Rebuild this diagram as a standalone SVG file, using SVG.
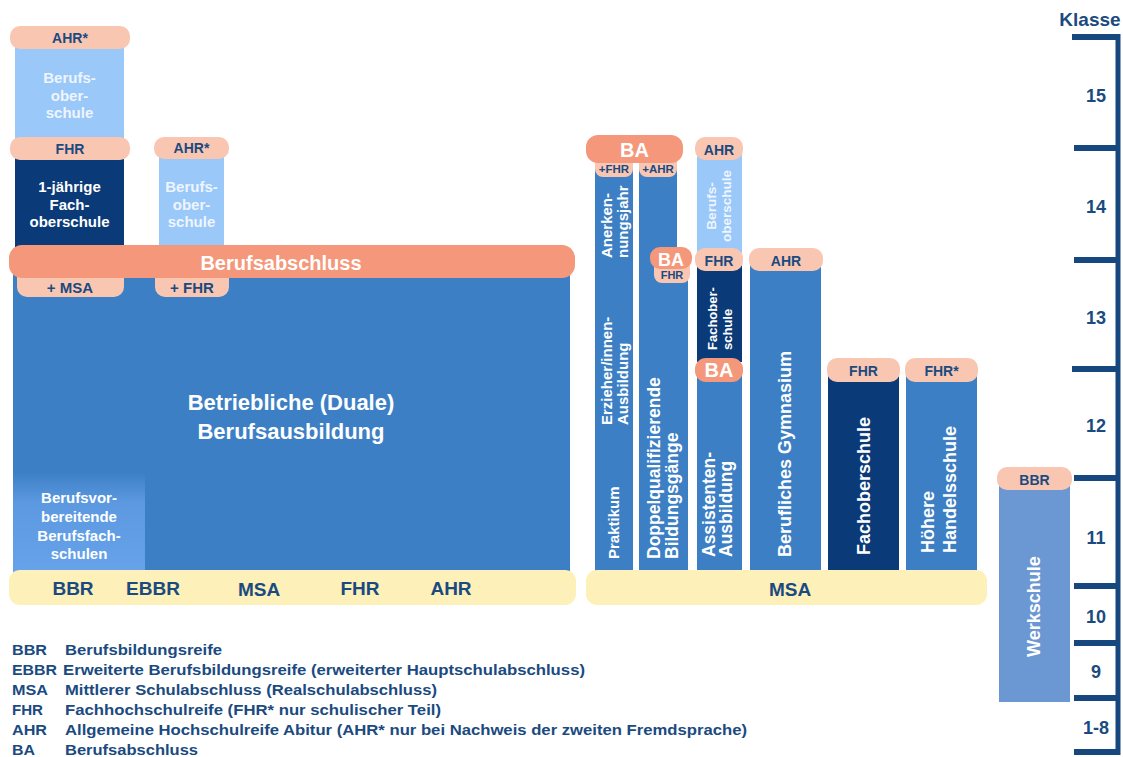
<svg xmlns="http://www.w3.org/2000/svg" width="1123" height="757" viewBox="0 0 1123 757">
<style>
text{font-family:"Liberation Sans",Arial,Helvetica,sans-serif;font-weight:bold}
.c{text-anchor:middle}
.dk{fill:#1a4a80}
.wh{fill:#ffffff}
.lt{fill:#eef5ff}
.blue{fill:#3d7fc4}
.navy{fill:#0b3a78}
.lb{fill:#9ac8f9}
.sal{fill:#f5977a}
.peach{fill:#f9c6b2}
.yel{fill:#fdf0b8}
.werk{fill:#6b97d3}
.tick{stroke:#17477f;stroke-width:6}
.s11{font-size:11px}.s12{font-size:11.5px}.s13{font-size:13px}.s14{font-size:14px}.s15{font-size:15px}
.s17{font-size:17.5px}.s18{font-size:18px}.s19{font-size:19px}.s20{font-size:20px}.s22{font-size:22px}
.leg{font-size:15px;fill:#1a4a80}
</style>
<defs>
<linearGradient id="bvGrad" x1="0" y1="0" x2="0" y2="1">
<stop offset="0" stop-color="#3d7fc4"/>
<stop offset="0.3" stop-color="#5c99e0"/>
<stop offset="1" stop-color="#66a3ea"/>
</linearGradient>
</defs>

<!-- Left block -->
<g id="duale-ausbildung">
<rect class="blue" x="13" y="255" width="557" height="320"/>
<text class="wh s22 c" x="291" y="410">Betriebliche (Duale)</text>
<text class="wh s22 c" x="291" y="439">Berufsausbildung</text>
</g>
<g id="berufsvorbereitende">
<rect x="13" y="472" width="132" height="103" fill="url(#bvGrad)"/>
<text class="wh s15 c" x="79" y="502.5">Berufsvor-</text>
<text class="wh s15 c" x="79" y="521.5">bereitende</text>
<text class="wh s15 c" x="79" y="540.5">Berufsfach-</text>
<text class="wh s15 c" x="79" y="558.5">schulen</text>
</g>
<g id="berufsoberschule-top">
<rect class="lb" x="15" y="40" width="109" height="100"/>
<rect class="peach" x="10" y="26" width="120" height="23" rx="10"/>
<text class="dk s14 c" x="70" y="42.5">AHR*</text>
<text class="lt s15 c" x="69.5" y="83">Berufs-</text>
<text class="lt s15 c" x="69.5" y="100.5">ober-</text>
<text class="lt s15 c" x="69.5" y="118">schule</text>
</g>
<g id="fachoberschule-1j">
<rect class="navy" x="15" y="155" width="109" height="95"/>
<rect class="peach" x="10" y="137" width="120" height="23" rx="10"/>
<text class="dk s14 c" x="70" y="153.5">FHR</text>
<text class="wh s15 c" x="69.5" y="192">1-jährige</text>
<text class="wh s15 c" x="69.5" y="209.5">Fach-</text>
<text class="wh s15 c" x="69.5" y="227">oberschule</text>
</g>
<g id="berufsoberschule-2">
<rect class="lb" x="159" y="155" width="65" height="95"/>
<rect class="peach" x="154" y="137" width="75" height="22" rx="10"/>
<text class="dk s14 c" x="191.5" y="153">AHR*</text>
<text class="lt s15 c" x="191.5" y="192">Berufs-</text>
<text class="lt s15 c" x="191.5" y="209.5">ober-</text>
<text class="lt s15 c" x="191.5" y="227">schule</text>
</g>
<g id="plus-msa">
<rect class="peach" x="17" y="266" width="107" height="31" rx="10"/>
<text class="dk s15 c" x="70" y="293">+ MSA</text>
</g>
<g id="plus-fhr">
<rect class="peach" x="155" y="266" width="74" height="31" rx="10"/>
<text class="dk s15 c" x="192" y="293">+ FHR</text>
</g>
<g id="berufsabschluss-bar">
<rect class="sal" x="9" y="245" width="566" height="33" rx="13"/>
<text class="wh s20 c" x="281" y="270">Berufsabschluss</text>
</g>
<g id="abschluesse-links">
<rect class="yel" x="9" y="570" width="567" height="35" rx="11"/>
<text class="dk s19 c" x="73" y="594.5">BBR</text>
<text class="dk s19 c" x="153" y="594.5">EBBR</text>
<text class="dk s19 c" x="259" y="595.5">MSA</text>
<text class="dk s19 c" x="360" y="594.5">FHR</text>
<text class="dk s19 c" x="451" y="594.5">AHR</text>
</g>

<!-- Middle block -->
<g id="erzieher">
<rect class="blue" x="595" y="160" width="38" height="415"/>
<rect class="peach" x="595" y="150" width="38" height="27" rx="8"/>
<text class="dk s12 c" x="614" y="173">+FHR</text>
<text class="wh s15" transform="translate(619,559) rotate(-90)">Praktikum</text>
<text class="wh s15" transform="translate(612,425) rotate(-90)"><tspan x="0" y="0">Erzieher/innen-</tspan><tspan x="0" y="15.5">Ausbildung</tspan></text>
<text class="wh s15" transform="translate(612,258) rotate(-90)"><tspan x="0" y="0">Anerken-</tspan><tspan x="0" y="15.5">nungsjahr</tspan></text>
</g>
<g id="doppelqualifizierende">
<rect class="blue" x="639" y="160" width="38" height="415"/>
<rect class="blue" x="639" y="258" width="49" height="317"/>
<rect class="peach" x="639" y="150" width="38" height="27" rx="8"/>
<text class="dk s12 c" x="658" y="173">+AHR</text>
<rect class="peach" x="654" y="258" width="36" height="25" rx="8"/>
<text class="dk s11 c" x="672" y="279">FHR</text>
<rect class="sal" x="650" y="247" width="42" height="22" rx="10"/>
<text class="wh s18 c" x="671" y="265.5">BA</text>
<text class="wh s17" transform="translate(660,559) rotate(-90)"><tspan x="0" y="0">Doppelqualifizierende</tspan><tspan x="0" y="18">Bildungsgänge</tspan></text>
</g>
<g id="ba-top">
<rect class="sal" x="586" y="135" width="97" height="28" rx="12"/>
<text class="wh s20 c" x="634.5" y="156.5">BA</text>
</g>
<g id="assistenten">
<rect class="lb" x="697" y="148" width="45" height="105"/>
<rect class="navy" x="697" y="262" width="45" height="100"/>
<rect class="blue" x="697" y="375" width="45" height="200"/>
<rect class="peach" x="695" y="137" width="48" height="23" rx="10"/>
<text class="dk s14 c" x="719" y="155">AHR</text>
<text class="lt" style="font-size:13.5px;text-anchor:middle" transform="translate(716,206) rotate(-90)"><tspan x="0" y="0">Berufs-</tspan><tspan x="0" y="15">oberschule</tspan></text>
<rect class="peach" x="695" y="248" width="48" height="23" rx="10"/>
<text class="dk s14 c" x="719" y="265.5">FHR</text>
<text class="wh s13" transform="translate(717,350) rotate(-90)"><tspan x="0" y="0">Fachober-</tspan><tspan x="0" y="15">schule</tspan></text>
<rect class="sal" x="695" y="358" width="48" height="24" rx="11"/>
<text class="wh s20 c" x="719" y="377">BA</text>
<text class="wh s17" transform="translate(715,557) rotate(-90)"><tspan x="0" y="0">Assistenten-</tspan><tspan x="0" y="17">Ausbildung</tspan></text>
</g>
<g id="berufliches-gymnasium">
<rect class="blue" x="750" y="262" width="71" height="313"/>
<rect class="peach" x="749" y="248" width="74" height="23" rx="10"/>
<text class="dk s14 c" x="786" y="265.5">AHR</text>
<text class="wh s18" transform="translate(791,557) rotate(-90)">Berufliches Gymnasium</text>
</g>
<g id="fachoberschule">
<rect class="navy" x="828" y="372" width="71" height="203"/>
<rect class="peach" x="827" y="358" width="73" height="24" rx="10"/>
<text class="dk s14 c" x="863.5" y="375.5">FHR</text>
<text class="wh s18" transform="translate(870,555) rotate(-90)">Fachoberschule</text>
</g>
<g id="hoehere-handelsschule">
<rect class="blue" x="906" y="372" width="71" height="203"/>
<rect class="peach" x="905" y="358" width="73" height="24" rx="10"/>
<text class="dk s14 c" x="941.5" y="375.5">FHR*</text>
<text class="wh s18" transform="translate(934,553) rotate(-90)"><tspan x="0" y="0">Höhere</tspan><tspan x="0" y="22">Handelsschule</tspan></text>
</g>
<g id="msa-bar">
<rect class="yel" x="586" y="570" width="401" height="35" rx="11"/>
<text class="dk s19 c" x="790" y="595.5">MSA</text>
</g>

<!-- Werkschule -->
<g id="werkschule">
<rect class="werk" x="999" y="480" width="71" height="222"/>
<rect class="peach" x="997" y="467" width="75" height="23" rx="10"/>
<text class="dk s14 c" x="1034.5" y="484.5">BBR</text>
<text class="wh s18" transform="translate(1040,657) rotate(-90)">Werkschule</text>
</g>

<!-- Klasse scale -->
<g id="klassen-skala">
<line x1="1118" y1="34" x2="1118" y2="755" stroke="#17477f" stroke-width="5"/>
<line class="tick" x1="1072" y1="37" x2="1120" y2="37"/>
<line class="tick" x1="1074" y1="148" x2="1120" y2="148"/>
<line class="tick" x1="1074" y1="260" x2="1120" y2="260"/>
<line class="tick" x1="1072" y1="369" x2="1120" y2="369"/>
<line class="tick" x1="1074" y1="478" x2="1120" y2="478"/>
<line class="tick" x1="1074" y1="586" x2="1120" y2="586"/>
<line class="tick" x1="1074" y1="643" x2="1120" y2="643"/>
<line class="tick" x1="1074" y1="698" x2="1120" y2="698"/>
<line class="tick" x1="1074" y1="752" x2="1120" y2="752"/>
<text class="dk s19 c" x="1090" y="26">Klasse</text>
<text class="dk s18 c" x="1096" y="102">15</text>
<text class="dk s18 c" x="1096" y="213">14</text>
<text class="dk s18 c" x="1096" y="324">13</text>
<text class="dk s18 c" x="1096" y="432">12</text>
<text class="dk s18 c" x="1096" y="544">11</text>
<text class="dk s18 c" x="1096" y="623">10</text>
<text class="dk s18 c" x="1096" y="678">9</text>
<text class="dk s18 c" x="1096" y="734">1-8</text>
</g>

<!-- Legend -->
<g id="legende">
<text class="leg" x="12" y="655" textLength="35" lengthAdjust="spacingAndGlyphs">BBR</text>
<text class="leg" x="65" y="655" textLength="157" lengthAdjust="spacingAndGlyphs">Berufsbildungsreife</text>
<text class="leg" x="12" y="675" textLength="45" lengthAdjust="spacingAndGlyphs">EBBR</text>
<text class="leg" x="63" y="675" textLength="522" lengthAdjust="spacingAndGlyphs">Erweiterte Berufsbildungsreife (erweiterter Hauptschulabschluss)</text>
<text class="leg" x="12" y="695" textLength="36" lengthAdjust="spacingAndGlyphs">MSA</text>
<text class="leg" x="65" y="695" textLength="372" lengthAdjust="spacingAndGlyphs">Mittlerer Schulabschluss (Realschulabschluss)</text>
<text class="leg" x="12" y="715" textLength="31" lengthAdjust="spacingAndGlyphs">FHR</text>
<text class="leg" x="65" y="715" textLength="376" lengthAdjust="spacingAndGlyphs">Fachhochschulreife (FHR* nur schulischer Teil)</text>
<text class="leg" x="12" y="735" textLength="35" lengthAdjust="spacingAndGlyphs">AHR</text>
<text class="leg" x="65" y="735" textLength="682" lengthAdjust="spacingAndGlyphs">Allgemeine Hochschulreife Abitur (AHR* nur bei Nachweis der zweiten Fremdsprache)</text>
<text class="leg" x="12" y="755" textLength="23" lengthAdjust="spacingAndGlyphs">BA</text>
<text class="leg" x="65" y="755" textLength="133" lengthAdjust="spacingAndGlyphs">Berufsabschluss</text>
</g>
</svg>
